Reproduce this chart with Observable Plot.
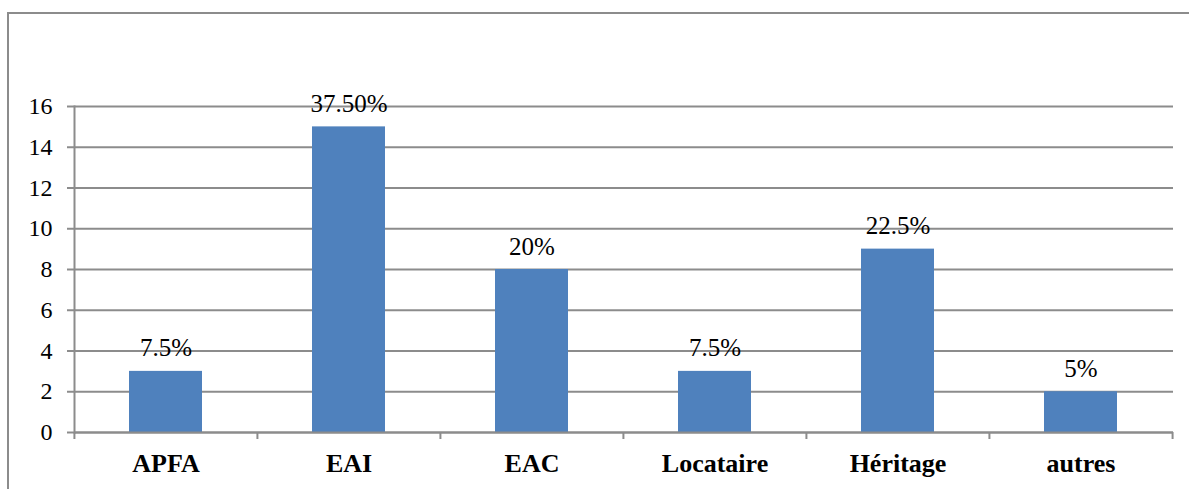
<!DOCTYPE html>
<html>
<head>
<meta charset="utf-8">
<script src="https://cdn.jsdelivr.net/npm/d3@7"></script>
<script src="https://cdn.jsdelivr.net/npm/@observablehq/plot@0.6"></script>
<style>
  html, body { margin: 0; padding: 0; background: #fff; overflow: hidden; }
  #wrap { position: relative; width: 1189px; height: 489px; }
  #border { position: absolute; left: 7px; top: 12px; width: 1200px; height: 500px;
            border-top: 2px solid #8c8c8c; border-left: 2px solid #8c8c8c; }
  #chart { position: absolute; left: 0; top: 0; }
</style>
</head>
<body>
<div id="wrap"><div id="border"></div><div id="chart"></div></div>
<script>
const categories = ["APFA", "EAI", "EAC", "Locataire", "Héritage", "autres"];
const values = [3, 15, 8, 3, 9, 2];
const labels = ["7.5%", "37.50%", "20%", "7.5%", "22.5%", "5%"];
const yTicks = [0, 2, 4, 6, 8, 10, 12, 14, 16];

const data = categories.map((c, i) => ({cat: c, value: values[i], label: labels[i]}));

const W = 1189, H = 489;
const mL = 74, mR = 16, mT = 106, mB = 57;
const step = (W - mL - mR) / categories.length;
const grid = "#8c8c8c";
const serif = "Liberation Serif";

const chart = Plot.plot({
  width: W,
  height: H,
  marginLeft: mL,
  marginRight: mR,
  marginTop: mT,
  marginBottom: mB,
  style: {fontFamily: serif, fontSize: "24px", color: "#000", background: "transparent"},
  x: {domain: categories, paddingInner: 0.6, paddingOuter: 0.3, label: null},
  y: {domain: [0, 16], label: null},
  marks: [
    Plot.gridY(yTicks, {stroke: grid, strokeOpacity: 1, strokeWidth: 2}),
    Plot.axisY(yTicks, {tickSize: 7, tickPadding: 15, stroke: grid, strokeWidth: 2, fontSize: 24, fontFamily: serif, label: null}),
    Plot.barY(data, {x: "cat", y: "value", fill: "#4f81bd"}),
    Plot.frame({anchor: "left", stroke: grid, strokeWidth: 2}),
    Plot.ruleY([0], {stroke: grid, strokeWidth: 2}),
    Plot.axisX(categories, {tickSize: 7, text: null, dx: -step / 2, stroke: grid, strokeWidth: 2}),
    Plot.axisX([categories[categories.length - 1]], {tickSize: 7, text: null, dx: step / 2, stroke: grid, strokeWidth: 2}),
    Plot.axisX(categories, {tickSize: 0, tickPadding: 21, fontWeight: "bold", fontSize: 26, fontFamily: serif, label: null}),
    Plot.text(data, {x: "cat", y: "value", text: "label", dy: -15, lineAnchor: "bottom", fontSize: 25, fontFamily: serif, fill: "#000"})
  ]
});
document.getElementById("chart").appendChild(chart);
</script>
</body>
</html>
